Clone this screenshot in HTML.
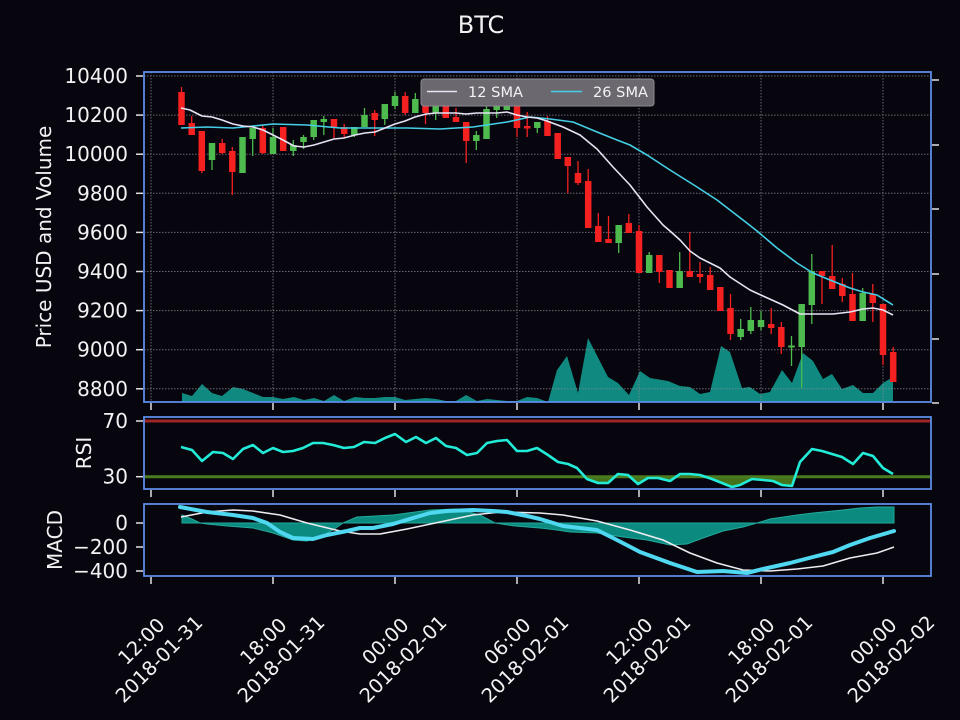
<!DOCTYPE html>
<html><head><meta charset="utf-8"><style>
html,body{margin:0;padding:0;background:#07050d;width:960px;height:720px;overflow:hidden}
svg{display:block}
text{font-family:"DejaVu Sans","Liberation Sans",sans-serif;fill:#f2f2f2}
</style></head><body>
<svg width="960" height="720" viewBox="0 0 960 720" xmlns="http://www.w3.org/2000/svg">
<defs>
<clipPath id="cm"><rect x="144" y="72" width="787" height="330"/></clipPath>
<clipPath id="rsiLow"><rect x="144" y="476.7" width="787" height="13"/></clipPath>
</defs>
<rect width="960" height="720" fill="#07050d"/>
<text x="481" y="33" font-size="24" text-anchor="middle">BTC</text>

<!-- MAIN -->
<g clip-path="url(#cm)">
<polygon fill="#108a80" points="182,402 182,393 192,396 202,384 212,393 222,396 233,387 243,389 253,393 263,397 273,397 283,399 294,397 304,400 314,398 324,401 334,395 344,401 355,397 365,398 375,398 385,397 395,397 405,400 415,399 426,398 436,399 446,401 456,401 466,395 477,401 487,399 497,400 507,401 517,401 527,397 537,398 548,402 557,370 567,356 578,393 588,338 608,377 618,383 629,395 640,371 650,378 668,381 680,386 690,387 700,394 710,392 721,346 730,352 742,388 750,387 760,394 770,392 782,370 792,383 803,353 813,361 823,379 832,374 842,389 853,385 863,393 873,393 883,383 893,377 893,402"/>
<g stroke="#8a8a90" stroke-width="1" stroke-dasharray="1.5,1.5" opacity="0.75">
<line x1="144" x2="931" y1="76" y2="76"/><line x1="144" x2="931" y1="115.1" y2="115.1"/><line x1="144" x2="931" y1="154.2" y2="154.2"/><line x1="144" x2="931" y1="193.3" y2="193.3"/><line x1="144" x2="931" y1="232.4" y2="232.4"/><line x1="144" x2="931" y1="271.5" y2="271.5"/><line x1="144" x2="931" y1="310.6" y2="310.6"/><line x1="144" x2="931" y1="349.7" y2="349.7"/><line x1="144" x2="931" y1="388.8" y2="388.8"/>
<line x1="151" x2="151" y1="72" y2="402"/><line x1="273" x2="273" y1="72" y2="402"/><line x1="395" x2="395" y1="72" y2="402"/><line x1="517" x2="517" y1="72" y2="402"/><line x1="639" x2="639" y1="72" y2="402"/><line x1="761" x2="761" y1="72" y2="402"/><line x1="883" x2="883" y1="72" y2="402"/>
</g>
<!-- candles: wicks -->
<g stroke-width="1.3">
<g stroke="#f52020">
<line x1="181.5" x2="181.5" y1="87" y2="125"/><line x1="191.7" x2="191.7" y1="116" y2="135"/><line x1="201.8" x2="201.8" y1="131" y2="173"/><line x1="222.2" x2="222.2" y1="139" y2="154"/><line x1="232.3" x2="232.3" y1="147" y2="195"/><line x1="262.8" x2="262.8" y1="125" y2="154"/><line x1="283.2" x2="283.2" y1="127" y2="151"/><line x1="334" x2="334" y1="119" y2="138"/><line x1="344.2" x2="344.2" y1="124" y2="138"/><line x1="374.7" x2="374.7" y1="110" y2="136"/><line x1="405.2" x2="405.2" y1="92" y2="115"/><line x1="425.5" x2="425.5" y1="99" y2="124"/><line x1="445.8" x2="445.8" y1="98" y2="118"/><line x1="456" x2="456" y1="108" y2="122"/><line x1="466.2" x2="466.2" y1="122" y2="163"/><line x1="517" x2="517" y1="103" y2="137"/><line x1="527.2" x2="527.2" y1="112" y2="137"/><line x1="547.5" x2="547.5" y1="116" y2="136"/><line x1="557.7" x2="557.7" y1="133" y2="159"/><line x1="567.8" x2="567.8" y1="157" y2="193"/><line x1="578" x2="578" y1="161" y2="185"/><line x1="588.2" x2="588.2" y1="169" y2="228"/><line x1="598.3" x2="598.3" y1="213" y2="242"/><line x1="608.5" x2="608.5" y1="216" y2="243"/><line x1="628.8" x2="628.8" y1="214" y2="233"/><line x1="639" x2="639" y1="225" y2="273"/><line x1="659.3" x2="659.3" y1="255" y2="283"/><line x1="669.5" x2="669.5" y1="270" y2="288"/><line x1="689.8" x2="689.8" y1="232" y2="277"/><line x1="700" x2="700" y1="262" y2="283"/><line x1="710.2" x2="710.2" y1="267" y2="290"/><line x1="720.3" x2="720.3" y1="287" y2="311"/><line x1="730.5" x2="730.5" y1="294" y2="340"/><line x1="771.2" x2="771.2" y1="308" y2="334"/><line x1="781.3" x2="781.3" y1="322" y2="354"/><line x1="822" x2="822" y1="271" y2="304"/><line x1="832.2" x2="832.2" y1="245" y2="289"/><line x1="842.3" x2="842.3" y1="278" y2="302"/><line x1="852.5" x2="852.5" y1="273" y2="321"/><line x1="872.8" x2="872.8" y1="284" y2="322"/><line x1="883" x2="883" y1="304" y2="365"/><line x1="893.2" x2="893.2" y1="347" y2="382"/>
</g>
<g stroke="#4dbb4d">
<line x1="212" x2="212" y1="143" y2="170"/><line x1="242.5" x2="242.5" y1="137" y2="173"/><line x1="252.7" x2="252.7" y1="128" y2="156"/><line x1="273" x2="273" y1="128" y2="154"/><line x1="293.3" x2="293.3" y1="140" y2="156"/><line x1="303.5" x2="303.5" y1="135" y2="149"/><line x1="313.7" x2="313.7" y1="120" y2="140"/><line x1="323.8" x2="323.8" y1="116" y2="135"/><line x1="354.3" x2="354.3" y1="127" y2="137"/><line x1="364.5" x2="364.5" y1="108" y2="127"/><line x1="384.8" x2="384.8" y1="104" y2="125"/><line x1="395" x2="395" y1="92" y2="109"/><line x1="415.3" x2="415.3" y1="93" y2="113"/><line x1="435.7" x2="435.7" y1="98" y2="120"/><line x1="476.3" x2="476.3" y1="131" y2="150"/><line x1="486.5" x2="486.5" y1="99" y2="139"/><line x1="496.7" x2="496.7" y1="101" y2="118"/><line x1="506.8" x2="506.8" y1="99" y2="110"/><line x1="537.3" x2="537.3" y1="122" y2="133"/><line x1="618.7" x2="618.7" y1="225" y2="253"/><line x1="649.2" x2="649.2" y1="252" y2="273"/><line x1="679.7" x2="679.7" y1="252" y2="288"/><line x1="740.7" x2="740.7" y1="319" y2="340"/><line x1="750.8" x2="750.8" y1="307" y2="334"/><line x1="761" x2="761" y1="311" y2="330"/><line x1="791.5" x2="791.5" y1="336" y2="366"/><line x1="801.7" x2="801.7" y1="304" y2="388"/><line x1="811.8" x2="811.8" y1="254" y2="324"/><line x1="862.7" x2="862.7" y1="288" y2="321"/>
</g>
</g>
<!-- candles: bodies -->
<g fill="#f52020">
<rect x="178.25" y="92" width="6.5" height="33"/><rect x="188.45" y="123" width="6.5" height="12"/><rect x="198.55" y="131" width="6.5" height="40"/><rect x="218.95" y="143" width="6.5" height="10"/><rect x="229.05" y="151" width="6.5" height="21"/><rect x="259.55" y="128" width="6.5" height="25"/><rect x="279.95" y="127" width="6.5" height="24"/><rect x="330.75" y="119" width="6.5" height="8"/><rect x="340.95" y="127" width="6.5" height="7"/><rect x="371.45" y="113" width="6.5" height="7"/><rect x="401.95" y="96" width="6.5" height="17"/><rect x="422.25" y="99" width="6.5" height="14"/><rect x="442.55" y="98" width="6.5" height="20"/><rect x="452.75" y="117" width="6.5" height="5"/><rect x="462.95" y="122" width="6.5" height="19"/><rect x="513.75" y="103" width="6.5" height="25"/><rect x="523.95" y="126" width="6.5" height="2.5"/><rect x="544.25" y="121" width="6.5" height="15"/><rect x="554.45" y="133" width="6.5" height="26"/><rect x="564.55" y="157" width="6.5" height="9"/><rect x="574.75" y="173" width="6.5" height="10"/><rect x="584.95" y="181" width="6.5" height="47"/><rect x="595.05" y="226" width="6.5" height="16"/><rect x="605.25" y="239" width="6.5" height="4"/><rect x="625.55" y="223" width="6.5" height="10"/><rect x="635.75" y="231" width="6.5" height="42"/><rect x="656.05" y="255" width="6.5" height="17"/><rect x="666.25" y="270" width="6.5" height="18"/><rect x="686.55" y="271" width="6.5" height="6"/><rect x="696.75" y="274" width="6.5" height="3"/><rect x="706.95" y="275" width="6.5" height="15"/><rect x="717.05" y="287" width="6.5" height="24"/><rect x="727.25" y="308" width="6.5" height="26"/><rect x="767.95" y="324" width="6.5" height="4"/><rect x="778.05" y="327" width="6.5" height="20"/><rect x="818.75" y="271" width="6.5" height="5"/><rect x="828.95" y="276" width="6.5" height="13"/><rect x="839.05" y="284" width="6.5" height="12"/><rect x="849.25" y="294" width="6.5" height="27"/><rect x="869.55" y="294" width="6.5" height="9"/><rect x="879.75" y="304" width="6.5" height="51"/><rect x="889.95" y="352" width="6.5" height="30"/>
</g>
<g fill="#4dbb4d">
<rect x="208.75" y="143" width="6.5" height="17"/><rect x="239.25" y="137" width="6.5" height="36"/><rect x="249.45" y="128" width="6.5" height="11"/><rect x="269.75" y="137" width="6.5" height="17"/><rect x="290.05" y="145" width="6.5" height="6"/><rect x="300.25" y="137" width="6.5" height="5"/><rect x="310.45" y="120" width="6.5" height="17"/><rect x="320.55" y="119" width="6.5" height="3"/><rect x="351.05" y="127" width="6.5" height="8"/><rect x="361.25" y="115" width="6.5" height="12"/><rect x="381.55" y="104" width="6.5" height="15"/><rect x="391.75" y="96" width="6.5" height="10"/><rect x="412.05" y="99" width="6.5" height="14"/><rect x="432.45" y="98" width="6.5" height="15"/><rect x="473.05" y="135" width="6.5" height="6"/><rect x="483.25" y="109" width="6.5" height="30"/><rect x="493.45" y="104" width="6.5" height="6"/><rect x="503.55" y="101" width="6.5" height="9"/><rect x="534.05" y="122" width="6.5" height="6"/><rect x="615.45" y="225" width="6.5" height="18"/><rect x="645.95" y="255" width="6.5" height="18"/><rect x="676.45" y="271" width="6.5" height="17"/><rect x="737.45" y="329" width="6.5" height="8"/><rect x="747.55" y="320" width="6.5" height="11"/><rect x="757.75" y="320" width="6.5" height="7"/><rect x="788.25" y="345.5" width="6.5" height="2"/><rect x="798.45" y="304" width="6.5" height="43"/><rect x="808.55" y="271" width="6.5" height="34"/><rect x="859.45" y="293" width="6.5" height="28"/>
</g>
<!-- SMAs -->
<polyline fill="none" stroke="#45cfe6" stroke-width="1.6" stroke-linejoin="round" points="181,128 207,127 233,128 253,126 273,124 307,125 340,128 373,128 407,128 440,129 473,127 507,122 530,117 550,119 573,122 597,132 617,140 630,145 647,155 670,170 697,187 717,200 743,220 757,231 777,248 797,263 813,273 830,280 850,288 863,292 877,295 893,305"/>
<polyline fill="none" stroke="#e6e4f4" stroke-width="1.6" stroke-linejoin="round" points="181,108 190,110 202,116 212,117 222,120 233,124 243,126 253,127 263,130 273,135 283,140 294,146 304,147 314,145 324,142 334,139 344,138 355,135 365,133 375,132 385,128 395,124 405,121 415,117 426,114 436,113 446,113 456,113 466,114 477,113 487,113 497,113 507,112 517,115 527,117 537,118 547,121 563,127 580,135 597,149 613,167 630,185 647,207 663,225 670,231 680,240 690,251 700,258 720,268 730,277 750,290 763,296 783,305 800,314 820,314 833,314 850,312 863,309 873,308 883,310 893,315"/>
</g>
<!-- legend -->
<rect x="421" y="79" width="233" height="27" rx="3" fill="#6c6870" stroke="#8e8a92" stroke-width="1"/>
<line x1="427" x2="457" y1="91.5" y2="91.5" stroke="#e6e4f4" stroke-width="1.6"/>
<text x="468" y="97" font-size="14.5" textLength="55" lengthAdjust="spacingAndGlyphs">12 SMA</text>
<line x1="551" x2="582" y1="91.5" y2="91.5" stroke="#45cfe6" stroke-width="1.6"/>
<text x="593" y="97" font-size="14.5" textLength="55" lengthAdjust="spacingAndGlyphs">26 SMA</text>

<!-- RSI -->
<line x1="144" x2="931" y1="421" y2="421" stroke="#9e2626" stroke-width="3"/>
<polygon clip-path="url(#rsiLow)" fill="#44731a" points="181,447 192,450 202,461 213,452 223,453 233,459 243,449 253,445 263,453 273,448 283,452 293,451 303,448 313,443 323,443 333,445 344,448 354,447 364,442 375,443 385,438 395,434 406,442 416,437 426,443 436,438 446,446 456,448 467,455 477,453 487,443 497,441 507,440 517,451 527,451 537,448 548,455 558,462 568,464 577,468 587,479 598,483 608,483 618,474 628,475 638,484 648,478 658,478 670,481 680,474 690,474 700,475 712,479 722,483 732,487 740,485 752,479 763,480 773,481 782,485 792,486 800,462 812,449 822,451 832,454 842,457 853,464 863,453 873,456 883,468 893,474 893,476.7 181,476.7"/>
<line x1="144" x2="931" y1="476.7" y2="476.7" stroke="#4a7c1f" stroke-width="3"/>
<polyline fill="none" stroke="#22ecd8" stroke-width="2.6" stroke-linejoin="round" points="181,447 192,450 202,461 213,452 223,453 233,459 243,449 253,445 263,453 273,448 283,452 293,451 303,448 313,443 323,443 333,445 344,448 354,447 364,442 375,443 385,438 395,434 406,442 416,437 426,443 436,438 446,446 456,448 467,455 477,453 487,443 497,441 507,440 517,451 527,451 537,448 548,455 558,462 568,464 577,468 587,479 598,483 608,483 618,474 628,475 638,484 648,478 658,478 670,481 680,474 690,474 700,475 712,479 722,483 732,487 740,485 752,479 763,480 773,481 782,485 792,486 800,462 812,449 822,451 832,454 842,457 853,464 863,453 873,456 883,468 893,474"/>

<!-- MACD -->
<polygon fill="#0b8a80" stroke="#22aa9c" stroke-width="1" points="182,523 182,515 192,519 200,523 207,524 227,526 253,528 273,533 293,540 307,541 320,537 333,530 343,523 357,517 393,515 430,510 457,509 480,515 495,523 515,526 540,528 557,530 570,532 597,533 623,537 647,540 670,545 687,544 703,538 723,531 743,527 757,523 770,519 797,515 813,513 843,510 860,508 877,507 894,507 894,523"/>
<polyline fill="none" stroke="#ececf0" stroke-width="1.6" stroke-linejoin="round" points="181,517 207,512 233,510 253,511 280,515 307,523 340,531 360,534 380,534 407,529 440,522 473,515 500,512 540,513 563,515 597,521 630,530 663,540 690,553 717,563 743,570 770,571 797,569 823,566 850,558 877,553 894,547"/>
<polyline fill="none" stroke="#4fd8f0" stroke-width="4" stroke-linejoin="round" stroke-linecap="round" points="180,507 207,512 233,515 253,518 267,523 280,532 293,538 313,539 327,535 347,531 360,528 373,528 393,524 413,518 430,513 447,511 473,510 493,511 507,512 527,516 540,519 550,522 563,526 597,530 617,540 640,552 670,563 697,572 723,571 747,573 763,569 790,563 813,557 833,552 850,545 870,538 894,531"/>

<!-- spines -->
<g fill="none" stroke="#5c8ce6" stroke-width="1.8">
<rect x="144" y="72" width="787" height="330"/>
<rect x="144" y="417" width="787" height="72"/>
<rect x="144" y="504" width="787" height="72"/>
</g>
<!-- ticks -->
<g stroke="#e0e0e0" stroke-width="1.5">
<line x1="136" x2="143" y1="76" y2="76"/><line x1="136" x2="143" y1="115.1" y2="115.1"/><line x1="136" x2="143" y1="154.2" y2="154.2"/><line x1="136" x2="143" y1="193.3" y2="193.3"/><line x1="136" x2="143" y1="232.4" y2="232.4"/><line x1="136" x2="143" y1="271.5" y2="271.5"/><line x1="136" x2="143" y1="310.6" y2="310.6"/><line x1="136" x2="143" y1="349.7" y2="349.7"/><line x1="136" x2="143" y1="388.8" y2="388.8"/>
<line x1="136" x2="143" y1="421" y2="421"/><line x1="136" x2="143" y1="476.7" y2="476.7"/>
<line x1="136" x2="143" y1="523" y2="523"/><line x1="136" x2="143" y1="547" y2="547"/><line x1="136" x2="143" y1="571" y2="571"/>
<line x1="932" x2="939" y1="80" y2="80"/><line x1="932" x2="939" y1="145" y2="145"/><line x1="932" x2="939" y1="209" y2="209"/><line x1="932" x2="939" y1="274" y2="274"/><line x1="932" x2="939" y1="339" y2="339"/><line x1="932" x2="939" y1="403" y2="403"/>
<line x1="151" x2="151" y1="403" y2="410"/><line x1="273" x2="273" y1="403" y2="410"/><line x1="395" x2="395" y1="403" y2="410"/><line x1="517" x2="517" y1="403" y2="410"/><line x1="639" x2="639" y1="403" y2="410"/><line x1="761" x2="761" y1="403" y2="410"/><line x1="883" x2="883" y1="403" y2="410"/>
<line x1="151" x2="151" y1="490" y2="497"/><line x1="273" x2="273" y1="490" y2="497"/><line x1="395" x2="395" y1="490" y2="497"/><line x1="517" x2="517" y1="490" y2="497"/><line x1="639" x2="639" y1="490" y2="497"/><line x1="761" x2="761" y1="490" y2="497"/><line x1="883" x2="883" y1="490" y2="497"/>
<line x1="151" x2="151" y1="577" y2="584"/><line x1="273" x2="273" y1="577" y2="584"/><line x1="395" x2="395" y1="577" y2="584"/><line x1="517" x2="517" y1="577" y2="584"/><line x1="639" x2="639" y1="577" y2="584"/><line x1="761" x2="761" y1="577" y2="584"/><line x1="883" x2="883" y1="577" y2="584"/>
</g>
<!-- y tick labels -->
<g font-size="20" text-anchor="end">
<text x="128" y="83">10400</text><text x="128" y="122.1">10200</text><text x="128" y="161.2">10000</text><text x="128" y="200.3">9800</text><text x="128" y="239.4">9600</text><text x="128" y="278.5">9400</text><text x="128" y="317.6">9200</text><text x="128" y="356.7">9000</text><text x="128" y="395.8">8800</text>
<text x="128" y="428">70</text><text x="128" y="483.7">30</text>
<text x="128" y="530">0</text><text x="128" y="554">−200</text><text x="128" y="578">−400</text>
</g>
<g font-size="20" text-anchor="middle">
<text transform="translate(51,237) rotate(-90)">Price USD and Volume</text>
<text transform="translate(91,453) rotate(-90)">RSI</text>
<text transform="translate(62,540) rotate(-90)">MACD</text>
</g>
<!-- x tick labels -->
<g font-size="19.5" text-anchor="middle">
<g transform="translate(150,650) rotate(-45)"><text y="-5.5">12:00</text><text y="19.5">2018-01-31</text></g>
<g transform="translate(272,650) rotate(-45)"><text y="-5.5">18:00</text><text y="19.5">2018-01-31</text></g>
<g transform="translate(394,650) rotate(-45)"><text y="-5.5">00:00</text><text y="19.5">2018-02-01</text></g>
<g transform="translate(516,650) rotate(-45)"><text y="-5.5">06:00</text><text y="19.5">2018-02-01</text></g>
<g transform="translate(638,650) rotate(-45)"><text y="-5.5">12:00</text><text y="19.5">2018-02-01</text></g>
<g transform="translate(760,650) rotate(-45)"><text y="-5.5">18:00</text><text y="19.5">2018-02-01</text></g>
<g transform="translate(882,650) rotate(-45)"><text y="-5.5">00:00</text><text y="19.5">2018-02-02</text></g>
</g>
</svg>
</body></html>
